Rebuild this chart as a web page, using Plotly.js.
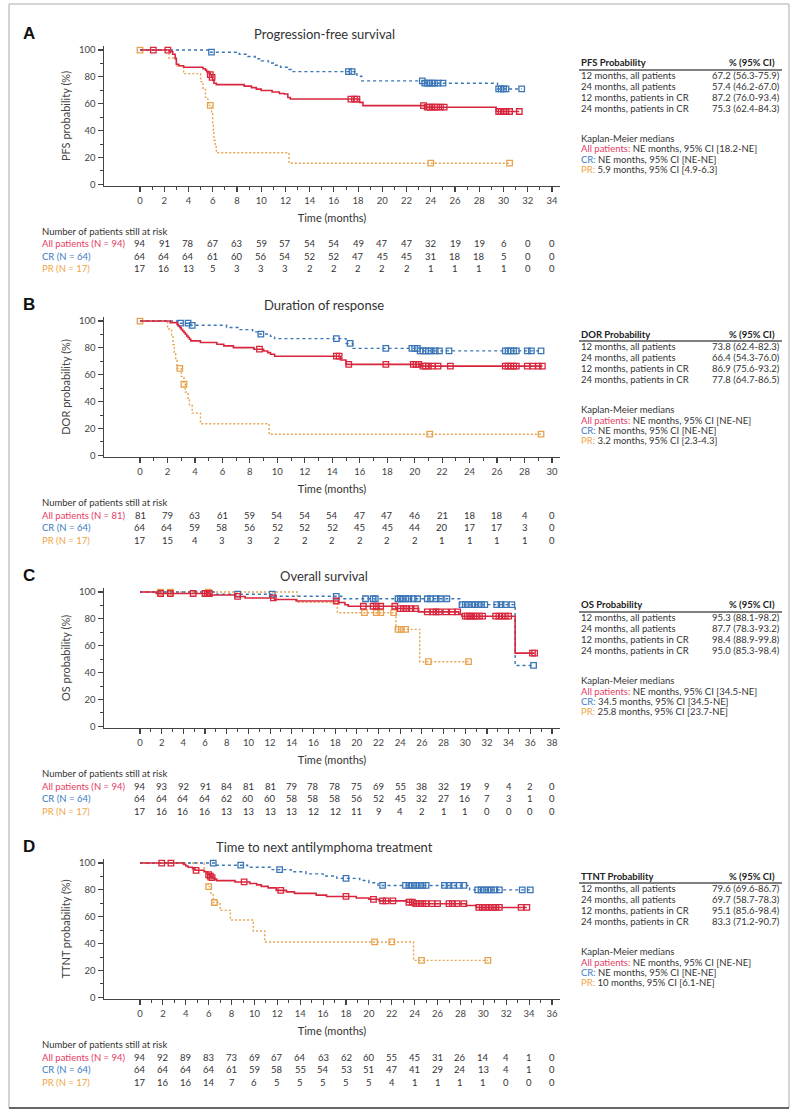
<!DOCTYPE html>
<html><head><meta charset="utf-8">
<script src="https://cdn.plot.ly/plotly-3.0.1.min.js"></script>
<style>body{margin:0;background:#fff}#chart{width:800px;height:1112px}</style>
</head><body><div id="chart"></div>
<script>
// ---------- tick labels ----------
const pfsTicks = [0,2,4,6,8,10,12,14,16,18,20,22,24,26,28,30,32,34];
const dorTicks = [0,2,4,6,8,10,12,14,16,18,20,22,24,26,28,30];
const osTicks  = [0,2,4,6,8,10,12,14,16,18,20,22,24,26,28,30,32,34,36,38];
const ttTicks  = [0,2,4,6,8,10,12,14,16,18,20,22,24,26,28,30,32,34,36];
const yTicks = [0,20,40,60,80,100];

// ---------- A: PFS ----------
const pfsAllT = [0,2.4,2.7,2.9,3.0,3.2,3.6,5.2,5.4,5.5,5.7,5.8,5.9,6.0,6.1,6.3,8.6,9.2,9.6,10.0,10.9,11.5,11.9,12.2,12.4,18.1,18.4,23.6,29.4];
const pfsAllS = [100,98.9,96.8,93.6,89.4,88.3,87.2,86.1,85.0,83.9,82.8,81.7,79.6,77.4,75.3,74.2,73.1,72.0,70.9,69.8,68.7,67.6,67.2,64.6,63.5,61.0,58.6,57.4,54.2];
const pfsAllC = [1.1,2.3,5.8,5.95,17.4,17.7,17.9,23.4,23.7,23.9,24.1,24.3,24.5,24.8,25.1,29.6,29.8,30.0,30.2,30.5,31.3];
const pfsCRT = [0,5.7,8.2,8.9,9.5,10.0,10.6,11.0,11.6,12.3,12.5,17.9,18.3,23.4,29.5];
const pfsCRS = [100,98.4,96.8,95.2,93.5,91.9,90.3,88.7,87.2,85.5,83.9,80.5,77.0,75.3,71.0];
const pfsCRC = [5.9,17.2,17.5,23.3,23.5,23.7,23.9,24.1,24.3,24.6,25.0,29.6,29.8,30.0,30.2,31.5];
const pfsPRT = [0,2.4,3.0,3.6,5.0,5.2,5.4,5.6,5.9,6.0,6.05,6.1,6.2,6.3,12.3];
const pfsPRS = [100,94.1,88.2,82.4,76.5,70.6,64.7,58.8,52.3,45.8,39.2,32.7,28.0,23.5,15.7];
const pfsPRC = [0,5.8,24.0,30.5];
const pfsRiskAll = [94,91,78,67,63,59,57,54,54,49,47,47,32,19,19,6,0,0];
const pfsRiskCR  = [64,64,64,61,60,56,54,52,52,47,45,45,31,18,18,5,0,0];
const pfsRiskPR  = [17,16,13,5,3,3,3,2,2,2,2,2,1,1,1,1,0,0];
const pfsTable = ['67.2 (56.3-75.9)','57.4 (46.2-67.0)','87.2 (76.0-93.4)','75.3 (62.4-84.3)'];
const pfsMedians = ['NE months, 95% CI [18.2-NE]','NE months, 95% CI [NE-NE]','5.9 months, 95% CI [4.9-6.3]'];

// ---------- B: DOR ----------
const dorAllT = [0,2.2,2.7,2.8,2.9,3.0,3.1,3.2,3.3,3.4,3.5,3.6,3.7,4.4,5.6,6.1,6.8,8.3,9.0,9.3,9.5,9.8,14.6,15.0,20.4];
const dorAllS = [100,98.8,97.5,96.3,95.1,93.8,92.6,91.4,90.1,88.9,87.7,86.4,85.2,84.0,82.7,81.5,80.2,79.0,77.7,76.5,75.2,73.8,71.0,67.7,66.4];
const dorAllC = [8.7,14.3,14.5,15.2,17.9,19.9,20.1,20.3,20.6,20.8,21.0,21.3,21.7,22.6,26.6,26.8,27.0,27.2,27.4,28.2,28.6,29.0,29.3];
const dorCRT = [0,2.9,3.7,6.3,7.2,8.2,8.7,9.5,9.8,15.0,15.5,20.4];
const dorCRS = [100,98.4,96.8,95.2,93.6,91.9,90.3,88.6,86.9,83.3,79.6,77.8];
const dorCRC = [2.95,3.5,3.8,8.8,14.3,15.3,17.9,19.8,20.0,20.2,20.4,20.6,20.8,21.0,21.2,21.5,21.8,22.5,26.6,26.8,27.0,27.2,27.4,28.2,28.5,29.2];
const dorPRT = [0,2.0,2.3,2.4,2.5,2.6,2.7,3.0,3.2,3.3,3.5,3.6,3.8,4.4,9.4];
const dorPRS = [100,94.1,88.2,82.4,76.5,70.6,64.7,58.8,52.9,47.1,41.2,37.6,31.4,23.5,15.7];
const dorPRC = [0,2.9,3.2,21.1,29.2];
const dorRiskAll = [81,79,63,61,59,54,54,54,47,47,46,21,18,18,4,0];
const dorRiskCR  = [64,64,59,58,56,52,52,52,45,45,44,20,17,17,3,0];
const dorRiskPR  = [17,15,4,3,3,2,2,2,2,2,2,1,1,1,1,0];
const dorTable = ['73.8 (62.4-82.3)','66.4 (54.3-76.0)','86.9 (75.6-93.2)','77.8 (64.7-86.5)'];
const dorMedians = ['NE months, 95% CI [NE-NE]','NE months, 95% CI [NE-NE]','3.2 months, 95% CI [2.3-4.3]'];

// ---------- C: OS ----------
const osAllT = [0,1.5,6.5,8.8,9.7,12.4,14.4,18.3,18.9,19.2,23.6,25.7,29.4,29.7,34.6];
const osAllS = [100,98.9,97.8,96.7,95.6,94.4,93.3,92.2,90.5,89.4,87.7,85.2,83.5,82.0,54.5];
const osAllC = [1.9,2.8,4.9,6.0,6.2,6.4,9.0,12.3,18.1,20.6,21.5,21.8,22.2,23.5,24.0,24.3,24.6,25.0,25.4,26.5,27.0,27.3,27.6,28.2,28.8,29.3,30.0,30.2,30.4,30.6,30.8,31.0,31.3,31.6,32.8,33.1,33.4,33.7,34.0,36.2,36.4];
const osCRT = [0,7.0,12.4,18.6,29.5,34.6];
const osCRS = [100,98.4,96.8,95.0,90.6,45.3];
const osCRC = [9.0,12.2,18.1,20.8,21.5,21.7,23.8,24.0,24.2,24.5,24.8,25.2,25.6,26.5,26.8,27.3,27.7,28.3,29.7,30.0,30.3,30.6,30.9,31.2,31.5,31.8,32.9,33.3,33.7,34.3,36.3];
const osPRT = [0,14.5,18.2,23.6,25.8];
const osPRS = [100,92.3,84.6,72.2,48.1];
const osPRC = [1.9,2.8,6.3,20.7,21.8,22.2,23.4,23.8,24.1,24.5,26.6,30.3];
const osRiskAll = [94,93,92,91,84,81,81,79,78,78,75,69,55,38,32,19,9,4,2,0];
const osRiskCR  = [64,64,64,64,62,60,60,58,58,58,56,52,45,32,27,16,7,3,1,0];
const osRiskPR  = [17,16,16,16,13,13,13,13,12,12,11,9,4,2,1,1,0,0,0,0];
const osTable = ['95.3 (88.1-98.2)','87.7 (78.3-93.2)','98.4 (88.9-99.8)','95.0 (85.3-98.4)'];
const osMedians = ['NE months, 95% CI [34.5-NE]','34.5 months, 95% CI [34.5-NE]','25.8 months, 95% CI [23.7-NE]'];

// ---------- D: TTNT ----------
const ttAllT = [0,3.8,4.0,4.2,4.6,4.8,5.6,5.9,6.0,6.1,6.3,6.5,6.7,8.3,9.6,10.2,10.6,11.2,11.9,12.8,13.5,15.4,16.3,18.9,20.0,20.9,23.3,23.9,28.5,29.4];
const ttAllS = [100,98.9,97.8,96.8,95.7,94.6,93.5,92.4,91.3,90.2,89.1,88.0,86.9,85.9,84.8,83.7,82.6,81.5,79.6,78.5,77.4,76.1,75.1,74.0,73.0,71.8,70.8,69.7,68.4,66.9];
const ttAllC = [1.9,2.7,4.9,6.0,6.15,6.3,9.1,12.3,18.0,20.4,21.2,21.5,22.1,23.5,23.8,24.1,24.4,24.7,25.0,25.5,26.0,27.0,27.3,27.7,28.3,29.6,29.9,30.2,30.5,30.8,31.1,31.4,33.3,33.8];
const ttCRT = [0,6.5,9.4,11.4,13.2,14.5,16.0,17.2,19.2,20.0,20.8,28.8];
const ttCRS = [100,98.4,96.8,95.1,93.5,91.9,90.3,88.6,87.0,85.3,83.3,80.0];
const ttCRC = [6.4,8.8,12.2,18.0,21.2,23.2,23.5,23.8,24.1,24.4,24.7,25.0,26.6,27.0,27.4,27.9,28.3,29.5,29.8,30.1,30.4,30.7,31.0,31.4,33.4,34.1];
const ttPRT = [0,5.6,5.8,5.95,6.2,6.4,7.0,7.9,9.9,10.9,23.9];
const ttPRS = [100,94.1,88.2,82.4,76.5,70.6,64.7,57.6,49.4,41.2,27.5];
const ttPRC = [6.0,6.5,20.5,22.0,24.6,30.4];
const ttRiskAll = [94,92,89,83,73,69,67,64,63,62,60,55,45,31,26,14,4,1,0];
const ttRiskCR  = [64,64,64,64,61,59,58,55,54,53,51,47,41,29,24,13,4,1,0];
const ttRiskPR  = [17,16,16,14,7,6,5,5,5,5,5,4,1,1,1,1,0,0,0];
const ttTable = ['79.6 (69.6-86.7)','69.7 (58.7-78.3)','95.1 (85.6-98.4)','83.3 (71.2-90.7)'];
const ttMedians = ['NE months, 95% CI [NE-NE]','NE months, 95% CI [NE-NE]','10 months, 95% CI [6.1-NE]'];

const tableRowLabels = ['12 months, all patients','24 months, all patients','12 months, patients in CR','24 months, patients in CR'];
const medianLabels = ['All patients:','CR:','PR:'];

// ---------- styling ----------
const FONT = 'Lato, "Open Sans", "DejaVu Sans", sans-serif';
const COL_ALL = '#d7263d', COL_CR = '#3a76b6', COL_PR = '#e8a24e';
const LBL_ALL = '#e43b62', LBL_CR = '#3b7cc4', LBL_PR = '#f0a548';
const W = 800, H = 1112;
const yf = px => 1 - px / H;

const panels = [
  {letter:'A', title:'Progression-free survival', ytitle:'PFS probability (%)', ticks:pfsTicks,
   series:[[pfsPRT,pfsPRS,pfsPRC,COL_PR,'2px,2px'],[pfsCRT,pfsCRS,pfsCRC,COL_CR,'3px,3px'],[pfsAllT,pfsAllS,pfsAllC,COL_ALL,'solid']],
   risk:[pfsRiskAll,pfsRiskCR,pfsRiskPR], riskLabels:['All patients (N = 94)','CR (N = 64)','PR (N = 17)'],
   head:'PFS Probability', table:pfsTable, medians:pfsMedians},
  {letter:'B', title:'Duration of response', ytitle:'DOR probability (%)', ticks:dorTicks,
   series:[[dorPRT,dorPRS,dorPRC,COL_PR,'2px,2px'],[dorCRT,dorCRS,dorCRC,COL_CR,'3px,3px'],[dorAllT,dorAllS,dorAllC,COL_ALL,'solid']],
   risk:[dorRiskAll,dorRiskCR,dorRiskPR], riskLabels:['All patients (N = 81)','CR (N = 64)','PR (N = 17)'],
   head:'DOR Probability', table:dorTable, medians:dorMedians},
  {letter:'C', title:'Overall survival', ytitle:'OS probability (%)', ticks:osTicks,
   series:[[osPRT,osPRS,osPRC,COL_PR,'2px,2px'],[osCRT,osCRS,osCRC,COL_CR,'3px,3px'],[osAllT,osAllS,osAllC,COL_ALL,'solid']],
   risk:[osRiskAll,osRiskCR,osRiskPR], riskLabels:['All patients (N = 94)','CR (N = 64)','PR (N = 17)'],
   head:'OS Probability', table:osTable, medians:osMedians},
  {letter:'D', title:'Time to next antilymphoma treatment', ytitle:'TTNT probability (%)', ticks:ttTicks,
   series:[[ttPRT,ttPRS,ttPRC,COL_PR,'2px,2px'],[ttCRT,ttCRS,ttCRC,COL_CR,'3px,3px'],[ttAllT,ttAllS,ttAllC,COL_ALL,'solid']],
   risk:[ttRiskAll,ttRiskCR,ttRiskPR], riskLabels:['All patients (N = 94)','CR (N = 64)','PR (N = 17)'],
   head:'TTNT Probability', table:ttTable, medians:ttMedians}
];

function survAt(T, S, t) { let v = S[0]; for (let i = 0; i < T.length; i++) if (T[i] <= t) v = S[i]; return v; }

const traces = [];
const layout = {
  width: W, height: H, margin: {l:0, r:0, t:0, b:0}, showlegend: false,
  paper_bgcolor: '#fff', plot_bgcolor: '#fff',
  font: {family: FONT, color: '#333', size: 10},
  annotations: [], shapes: []
};
const ann = layout.annotations;
const TBL = 9.5;

panels.forEach((p, k) => {
  const off = 271 * k;
  const sfx = k === 0 ? '' : String(k + 1);
  const xid = 'x' + sfx, yid = 'y' + sfx;
  const L = p.ticks[p.ticks.length - 1];
  const ppm = (552 - 140) / L;
  const lo = -(140 - 104) / ppm, hi = L + (560 - 552) / ppm;
  const minorX = [];
  for (let m = 1; m < hi; m += 2) minorX.push(m);

  layout['xaxis' + sfx] = {
    domain: [104 / W, 560 / W], range: [lo, hi], anchor: yid,
    showgrid: false, zeroline: false, showline: true, linecolor: '#444', linewidth: 1.5,
    ticks: 'outside', ticklen: 5, tickwidth: 1.2, tickcolor: '#444',
    tickmode: 'array', tickvals: p.ticks, ticktext: p.ticks.map(String),
    tickfont: {size: 9.5, color: '#444', family: FONT},
    minor: {tickvals: minorX, ticks: 'outside', ticklen: 3, tickwidth: 1, tickcolor: '#444'},
    title: {text: 'Time (months)', font: {size: 11, color: '#333', family: FONT}, standoff: 9},
    fixedrange: true
  };
  layout['yaxis' + sfx] = {
    domain: [yf(185.9 + off), yf(46 + off)], range: [-1.2, 103], anchor: xid,
    showgrid: false, zeroline: false, showline: true, linecolor: '#444', linewidth: 1.5,
    ticks: 'outside', ticklen: 5, tickwidth: 1.2, tickcolor: '#444',
    tickmode: 'array', tickvals: yTicks, ticktext: yTicks.map(String),
    tickfont: {size: 9.5, color: '#444', family: FONT},
    minor: {tickvals: [10,30,50,70,90], ticks: 'outside', ticklen: 3, tickwidth: 1, tickcolor: '#444'},
    title: {text: p.ytitle, font: {size: 11, color: '#444', family: FONT}, standoff: 6},
    fixedrange: true
  };

  p.series.forEach(([T, S, C, color, dash]) => {
    const lastT = Math.max(T[T.length - 1], ...C);
    traces.push({type: 'scatter', mode: 'lines', x: T.concat([lastT]), y: S.concat([S[S.length - 1]]),
      line: {shape: 'hv', color: color, dash: dash, width: dash === 'solid' ? 1.6 : 1.4},
      xaxis: xid, yaxis: yid, hoverinfo: 'skip'});
    traces.push({type: 'scatter', mode: 'markers', x: C, y: C.map(t => survAt(T, S, t)),
      marker: {symbol: 'square-open', size: 5.5, color: color, line: {width: 1.3, color: color}},
      xaxis: xid, yaxis: yid, hoverinfo: 'skip'});
  });

  // panel letter & title
  ann.push({xref: 'paper', yref: 'paper', x: 21 / W, y: yf(33 + off), xanchor: 'left', yanchor: 'middle',
    text: '<b>' + p.letter + '</b>', showarrow: false, font: {size: 17, color: '#111', family: '"Liberation Sans", Arial, sans-serif'}});
  ann.push({xref: 'paper', yref: 'paper', x: 324 / W, y: yf(34 + off), xanchor: 'center', yanchor: 'middle',
    text: p.title, showarrow: false, font: {size: 13, color: '#333', family: FONT}});

  // risk table
  ann.push({xref: 'paper', yref: 'paper', x: 40 / W, y: yf(231 + off), xanchor: 'left', yanchor: 'middle',
    text: 'Number of patients still at risk', showarrow: false, font: {size: 9.5, color: '#333', family: FONT}});
  const rowY = [244, 256.5, 269];
  const rowCol = [LBL_ALL, LBL_CR, LBL_PR];
  p.risk.forEach((vals, r) => {
    ann.push({xref: 'paper', yref: 'paper', x: 40 / W, y: yf(rowY[r] + off), xanchor: 'left', yanchor: 'middle',
      text: p.riskLabels[r], showarrow: false, font: {size: 9.5, color: rowCol[r], family: FONT}});
    vals.forEach((v, i) => {
      ann.push({xref: xid, yref: 'paper', x: p.ticks[i], y: yf(rowY[r] + off), xanchor: 'center', yanchor: 'middle',
        text: String(v), showarrow: false, font: {size: 9.5, color: '#333', family: FONT}});
    });
  });

  // right table
  const h = 63 + off;
  ann.push({xref: 'paper', yref: 'paper', x: 579 / W, y: yf(h), xanchor: 'left', yanchor: 'middle',
    text: '<b>' + p.head + '</b>', showarrow: false, font: {size: TBL, color: '#222', family: FONT}});
  ann.push({xref: 'paper', yref: 'paper', x: 777 / W, y: yf(h), xanchor: 'right', yanchor: 'middle',
    text: '<b>% (95% CI)</b>', showarrow: false, font: {size: TBL, color: '#222', family: FONT}});
  layout.shapes.push({type: 'line', xref: 'paper', yref: 'paper', x0: 579 / W, x1: 782 / W, y0: yf(h + 7), y1: yf(h + 7),
    line: {color: '#555', width: 1.5}});
  const tRows = [12.5, 23.5, 34.5, 45.5];
  tableRowLabels.forEach((lab, r) => {
    ann.push({xref: 'paper', yref: 'paper', x: 579 / W, y: yf(h + tRows[r]), xanchor: 'left', yanchor: 'middle',
      text: lab, showarrow: false, font: {size: TBL, color: '#333', family: FONT}});
    ann.push({xref: 'paper', yref: 'paper', x: 782 / W, y: yf(h + tRows[r]), xanchor: 'right', yanchor: 'middle',
      text: p.table[r], showarrow: false, font: {size: TBL, color: '#333', family: FONT}});
  });
  ann.push({xref: 'paper', yref: 'paper', x: 579 / W, y: yf(h + 75.5), xanchor: 'left', yanchor: 'middle',
    text: 'Kaplan-Meier medians', showarrow: false, font: {size: TBL, color: '#333', family: FONT}});
  const mRows = [86, 96.3, 106.5];
  p.medians.forEach((m, r) => {
    ann.push({xref: 'paper', yref: 'paper', x: 579 / W, y: yf(h + mRows[r]), xanchor: 'left', yanchor: 'middle',
      text: '<span style="color:' + rowCol[r] + '">' + medianLabels[r] + '</span> ' + m,
      showarrow: false, font: {size: TBL, color: '#333', family: FONT}});
  });
});

// figure frame
layout.shapes.push({type: 'rect', xref: 'paper', yref: 'paper', x0: 9 / W, x1: 789 / W, y0: yf(1108), y1: yf(4),
  line: {color: '#aaa', width: 1}});
layout.shapes.push({type: 'line', xref: 'paper', yref: 'paper', x0: 9 / W, x1: 789 / W, y0: yf(1108), y1: yf(1108),
  line: {color: '#666', width: 2}});

Plotly.newPlot('chart', traces, layout, {staticPlot: true, displayModeBar: false});
</script></body></html>
